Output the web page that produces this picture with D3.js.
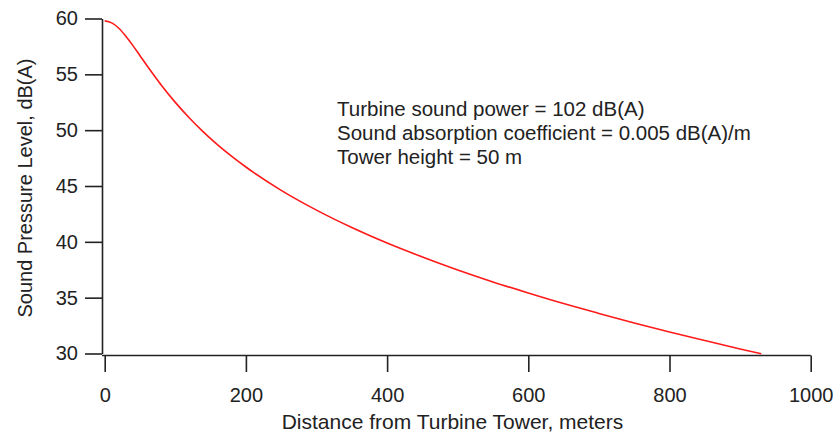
<!DOCTYPE html>
<html>
<head>
<meta charset="utf-8">
<script src="https://cdn.jsdelivr.net/npm/d3@7"></script>
<style>
  html, body { margin: 0; padding: 0; background: #fff; }
  svg { display: block; }
  text { font-family: "Liberation Sans", Arial, Helvetica, sans-serif; fill: #222; }
</style>
</head>
<body>
<svg id="chart" width="835" height="433"></svg>
<script>
// ---- data ----
const distance = [0, 10, 20, 30, 40, 50, 60, 70, 80, 100, 120, 140, 160, 180, 200,
  250, 300, 350, 400, 450, 500, 550, 600, 650, 700, 750, 800, 850, 900, 930];
const splDbA = [59.79, 59.61, 59.13, 58.41, 57.57, 56.67, 55.77, 54.90, 54.05, 52.49,
  51.09, 49.83, 48.69, 47.66, 46.70, 44.61, 42.84, 41.28, 39.89, 38.64, 37.48,
  36.41, 35.42, 34.47, 33.59, 32.74, 31.93, 31.16, 30.41, 29.98];
const xTicks = [0, 200, 400, 600, 800, 1000];
const yTicks = [30, 35, 40, 45, 50, 55, 60];
const xTitle = "Distance from Turbine Tower, meters";
const yTitle = "Sound Pressure Level, dB(A)";
const notes = [
  "Turbine sound power = 102 dB(A)",
  "Sound absorption coefficient = 0.005 dB(A)/m",
  "Tower height = 50 m"
];

// ---- layout ----
const svg = d3.select("#chart");
const axisX = 102;       // vertical axis position
const axisY = 355.5;     // horizontal axis position
const x = d3.scaleLinear().domain([0, 1000]).range([104.7, 810.7]);
const y = d3.scaleLinear().domain([30, 60]).range([353.5, 18.5]);
const ink = "#222";
const fontSize = 20;

// Y axis
const gy = svg.append("g")
  .attr("transform", `translate(${axisX},0)`)
  .call(d3.axisLeft(y).tickValues(yTicks).tickSize(17).tickSizeOuter(0).tickPadding(7)
    .tickFormat(d3.format("d")));
gy.selectAll("path.domain").attr("stroke", ink).attr("stroke-width", 1.6);
gy.selectAll(".tick line").attr("stroke", ink).attr("stroke-width", 1.6);
gy.selectAll(".tick text")
  .attr("font-size", fontSize)
  .attr("font-family", "'Liberation Sans', Arial, sans-serif")
  .attr("fill", ink);

// X axis
const gx = svg.append("g")
  .attr("transform", `translate(0,${axisY})`)
  .call(d3.axisBottom(x).tickValues(xTicks).tickSize(16.5).tickSizeOuter(0)
    .tickFormat(d3.format("d")));
gx.select("path.domain").remove();
gx.append("line")
  .attr("x1", axisX).attr("x2", x(1000))
  .attr("y1", 0).attr("y2", 0)
  .attr("stroke", ink).attr("stroke-width", 1.6);
gx.selectAll(".tick line").attr("stroke", ink).attr("stroke-width", 1.6);
gx.selectAll(".tick text")
  .attr("y", 46.2)
  .attr("dy", null)
  .attr("font-size", fontSize)
  .attr("font-family", "'Liberation Sans', Arial, sans-serif")
  .attr("fill", ink);

// Axis titles
svg.append("text")
  .attr("x", 452.5)
  .attr("y", 428.5)
  .attr("text-anchor", "middle")
  .attr("font-size", 21)
  .text(xTitle);

svg.append("text")
  .attr("transform", `translate(32,188) rotate(-90)`)
  .attr("text-anchor", "middle")
  .attr("font-size", fontSize)
  .text(yTitle);

// Curve
const pts = distance.map((d, i) => [d, splDbA[i]]);
svg.append("path")
  .datum(pts)
  .attr("fill", "none")
  .attr("stroke", "#ff1a1a")
  .attr("stroke-width", 1.6)
  .attr("d", d3.line().x(d => x(d[0])).y(d => y(d[1])).curve(d3.curveMonotoneX));

// Annotation
svg.append("g").selectAll("text")
  .data(notes)
  .join("text")
  .attr("x", 337)
  .attr("y", (d, i) => 116 + i * 24)
  .attr("font-size", 20.5)
  .text(d => d);
</script>
</body>
</html>
